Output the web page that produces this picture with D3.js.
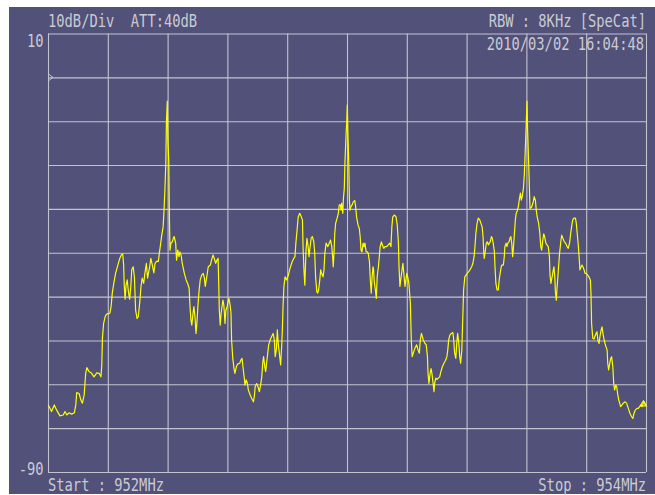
<!DOCTYPE html>
<html>
<head>
<meta charset="utf-8">
<script src="https://cdn.jsdelivr.net/npm/d3@7"></script>
<style>
  body { margin: 0; background: #fff; }
  svg { display: block; }
  text { white-space: pre; }
</style>
</head>
<body>
<div id="chart"></div>
<script>
// trace: frequency (MHz) and level (dBm)
var freqMHz = [
952.001,952.012,952.021,952.029,952.040,952.051,952.057,952.063,952.070,952.079,
952.088,952.093,952.096,952.104,952.110,952.115,952.121,952.126,952.130,952.137,
952.146,952.154,952.163,952.171,952.177,952.180,952.182,952.186,952.191,952.196,
952.207,952.211,952.215,952.220,952.226,952.233,952.240,952.246,952.250,952.253,
952.255,952.258,952.261,952.265,952.269,952.273,952.277,952.280,952.285,952.289,
952.293,952.298,952.302,952.307,952.311,952.315,952.320,952.324,952.329,952.333,
952.340,952.344,952.349,952.354,952.358,952.364,952.369,952.372,952.377,952.380,
952.385,952.388,952.391,952.394,952.396,952.399,952.401,952.404,952.406,952.408,
952.411,952.416,952.419,952.422,952.427,952.430,952.434,952.438,952.441,952.445,
952.449,952.456,952.462,952.467,952.472,952.475,952.478,952.481,952.485,952.488,
952.492,952.495,952.498,952.502,952.505,952.509,952.514,952.519,952.523,952.526,
952.531,952.536,952.543,952.547,952.552,952.556,952.561,952.565,952.569,952.571,
952.573,952.576,952.579,952.582,952.585,952.588,952.590,952.592,952.595,952.599,
952.602,952.605,952.609,952.612,952.614,952.618,952.622,952.625,952.630,952.634,
952.641,952.645,952.649,952.652,952.656,952.659,952.663,952.667,952.670,952.676,
952.681,952.687,952.690,952.693,952.698,952.702,952.707,952.711,952.715,952.718,
952.721,952.725,952.728,952.731,952.735,952.738,952.743,952.748,952.753,952.757,
952.760,952.764,952.767,952.770,952.775,952.778,952.782,952.784,952.786,952.789,
952.793,952.798,952.804,952.808,952.813,952.817,952.822,952.826,952.829,952.833,
952.837,952.842,952.846,952.851,952.853,952.856,952.859,952.861,952.863,952.866,
952.870,952.873,952.876,952.880,952.884,952.889,952.892,952.895,952.899,952.902,
952.905,952.909,952.912,952.915,952.920,952.923,952.926,952.930,952.933,952.936,
952.941,952.945,952.949,952.952,952.954,952.957,952.959,952.962,952.967,952.971,
952.974,952.978,952.980,952.982,952.986,952.988,952.991,952.993,952.997,952.999,
953.001,953.003,953.006,953.008,953.010,953.013,953.017,953.021,953.026,953.029,
953.032,953.037,953.041,953.044,953.047,953.050,953.054,953.057,953.060,953.064,
953.068,953.071,953.075,953.078,953.081,953.084,953.087,953.089,953.091,953.095,
953.098,953.101,953.105,953.108,953.111,953.115,953.118,953.123,953.127,953.133,
953.138,953.143,953.147,953.150,953.153,953.158,953.164,953.168,953.172,953.174,
953.177,953.181,953.184,953.187,953.191,953.194,953.200,953.203,953.207,953.212,
953.215,953.218,953.223,953.227,953.233,953.238,953.242,953.245,953.249,953.252,
953.255,953.261,953.265,953.269,953.271,953.274,953.278,953.281,953.284,953.288,
953.291,953.293,953.297,953.301,953.305,953.310,953.314,953.319,953.324,953.330,
953.334,953.337,953.340,953.344,953.349,953.354,953.357,953.360,953.364,953.367,
953.370,953.374,953.377,953.380,953.384,953.386,953.388,953.390,953.394,953.398,
953.402,953.407,953.411,953.417,953.421,953.425,953.428,953.431,953.435,953.439,
953.444,953.448,953.452,953.455,953.457,953.459,953.463,953.466,953.469,953.473,
953.476,953.479,953.483,953.486,953.489,953.493,953.495,953.498,953.502,953.506,
953.509,953.513,953.517,953.523,953.526,953.528,953.532,953.535,953.538,953.542,
953.545,953.548,953.551,953.554,953.556,953.560,953.563,953.566,953.570,953.573,
953.576,953.580,953.583,953.586,953.590,953.593,953.596,953.600,953.602,953.604,
953.609,953.612,953.618,953.623,953.626,953.630,953.633,953.636,953.641,953.645,
953.648,953.651,953.655,953.658,953.661,953.665,953.669,953.673,953.677,953.679,
953.682,953.686,953.689,953.692,953.695,953.697,953.700,953.702,953.705,953.708,
953.711,953.715,953.718,953.722,953.727,953.731,953.736,953.740,953.745,953.748,
953.752,953.755,953.759,953.764,953.767,953.770,953.774,953.777,953.779,953.783,
953.786,953.789,953.793,953.796,953.800,953.805,953.809,953.814,953.816,953.818,
953.822,953.826,953.829,953.833,953.836,953.839,953.843,953.846,953.850,953.853,
953.856,953.860,953.863,953.866,953.870,953.872,953.875,953.879,953.882,953.885,
953.889,953.892,953.895,953.899,953.902,953.905,953.909,953.912,953.915,953.920,
953.924,953.930,953.935,953.941,953.946,953.952,953.956,953.960,953.964,953.970,
953.974,953.979,953.982,953.987,953.991,953.994,953.998
];
var levelDb = [
-74.7,-76.2,-74.7,-75.9,-77.2,-77.0,-76.2,-77.0,-76.5,-76.8,
-76.5,-74.7,-71.9,-72.1,-73.6,-74.3,-72.4,-67.5,-66.2,-67.1,
-67.5,-68.3,-67.4,-67.5,-68.3,-65.6,-59.5,-56.1,-54.6,-54.0,
-53.8,-52.3,-49.2,-47.0,-44.7,-43.0,-41.3,-40.4,-40.3,-42.8,
-47.4,-50.6,-47.4,-46.2,-48.9,-50.6,-47.7,-43.9,-43.2,-45.5,
-53.1,-55.0,-54.6,-51.2,-47.7,-45.8,-47.0,-44.7,-42.4,-45.8,
-43.2,-41.3,-42.8,-44.6,-42.4,-41.9,-42.0,-40.3,-37.8,-36.2,
-34.1,-30.3,-25.7,-19.6,-10.5,-5.4,-14.3,-19.3,-31.6,-39.4,
-37.8,-37.5,-36.7,-36.3,-37.8,-41.7,-39.4,-40.9,-39.8,-40.5,
-42.4,-44.7,-46.2,-47.0,-48.1,-52.3,-55.3,-56.5,-53.8,-52.3,
-55.0,-58.4,-56.1,-51.5,-48.9,-46.2,-45.1,-44.7,-45.8,-47.7,
-45.5,-43.2,-42.8,-41.7,-40.5,-41.3,-42.4,-41.7,-41.3,-47.0,
-53.1,-56.5,-53.8,-52.3,-50.8,-51.9,-53.8,-56.1,-53.1,-52.3,
-51.2,-50.4,-51.9,-53.8,-59.9,-64.1,-66.4,-67.5,-66.0,-65.4,
-65.2,-64.5,-64.1,-66.0,-68.3,-70.2,-69.0,-69.8,-71.3,-72.4,
-73.2,-74.0,-72.8,-70.5,-69.8,-70.5,-71.7,-70.2,-68.3,-65.2,
-63.7,-66.0,-67.1,-65.2,-62.9,-61.0,-59.9,-59.1,-58.4,-59.9,
-63.7,-61.8,-57.6,-60.7,-63.7,-65.6,-60.7,-57.2,-52.3,-47.7,
-45.5,-46.2,-45.1,-43.9,-42.8,-42.0,-41.3,-40.9,-37.8,-34.8,
-31.8,-31.0,-31.6,-32.5,-38.6,-43.9,-47.4,-43.2,-39.4,-36.7,
-38.6,-40.9,-39.0,-36.7,-36.3,-37.5,-40.1,-45.5,-48.9,-49.2,
-48.5,-46.2,-43.9,-44.7,-45.5,-43.9,-40.1,-37.8,-38.2,-38.6,
-37.8,-37.1,-38.6,-40.9,-43.2,-39.4,-35.6,-33.3,-32.1,-31.0,
-29.1,-29.1,-30.3,-28.7,-31.0,-27.6,-25.3,-19.6,-12.8,-10.5,
-6.3,-12.8,-19.6,-28.0,-30.3,-29.5,-29.1,-28.4,-28.1,-29.5,
-31.8,-33.7,-34.4,-36.3,-39.4,-39.8,-37.8,-38.6,-37.8,-39.8,
-39.8,-40.1,-42.0,-46.2,-49.2,-45.5,-43.2,-43.9,-46.6,-48.5,
-50.4,-45.5,-43.2,-40.9,-38.6,-37.5,-38.2,-39.0,-38.6,-38.6,
-38.2,-37.8,-38.6,-34.1,-31.8,-31.4,-31.8,-33.7,-37.8,-43.2,
-47.7,-45.5,-43.9,-42.4,-45.5,-47.7,-44.7,-45.5,-47.0,-51.5,
-59.9,-63.7,-62.6,-61.8,-61.0,-62.2,-62.9,-59.9,-58.4,-59.1,
-59.9,-60.7,-61.0,-63.7,-67.5,-69.8,-67.5,-66.4,-67.5,-69.8,
-71.7,-69.8,-68.6,-68.9,-68.6,-68.3,-67.1,-66.0,-65.2,-64.5,
-63.7,-62.2,-59.9,-58.8,-58.4,-58.2,-59.9,-62.9,-64.1,-60.7,
-58.4,-60.7,-63.7,-65.2,-62.2,-57.6,-53.1,-48.5,-45.5,-45.1,
-44.7,-44.3,-43.9,-43.2,-42.4,-40.9,-38.6,-35.6,-33.3,-32.1,
-32.5,-33.3,-34.1,-36.3,-39.4,-41.3,-39.4,-37.8,-37.5,-38.2,
-37.8,-37.5,-36.3,-36.7,-37.8,-39.8,-43.2,-47.0,-48.5,-48.5,
-46.2,-44.3,-42.8,-42.8,-40.9,-38.6,-37.8,-38.6,-37.8,-37.5,
-36.7,-36.3,-37.8,-40.9,-39.4,-35.6,-32.5,-31.0,-30.3,-29.5,
-28.0,-26.4,-28.0,-27.2,-25.3,-22.3,-17.0,-9.7,-5.4,-12.0,
-22.7,-29.9,-29.5,-28.4,-27.2,-28.0,-30.3,-31.8,-33.3,-35.6,
-38.6,-39.4,-37.1,-35.7,-36.3,-37.8,-38.2,-38.6,-40.9,-45.1,
-47.0,-45.5,-44.3,-43.2,-45.5,-48.9,-50.8,-48.5,-45.8,-42.8,
-40.1,-37.5,-36.0,-36.7,-37.5,-37.8,-38.6,-39.0,-37.5,-35.6,
-33.7,-32.5,-32.1,-32.1,-33.3,-35.6,-38.6,-41.7,-43.9,-43.2,
-42.8,-43.2,-43.9,-44.7,-44.7,-45.1,-45.5,-46.2,-49.2,-56.1,
-59.5,-59.7,-59.1,-58.4,-58.0,-59.9,-60.7,-59.1,-57.6,-56.9,
-58.4,-59.9,-60.7,-61.4,-62.2,-65.2,-66.7,-65.2,-64.1,-63.7,
-66.0,-69.8,-71.3,-70.2,-70.5,-72.1,-73.6,-74.3,-75.1,-74.7,
-74.3,-74.0,-74.3,-75.5,-76.6,-77.4,-77.8,-76.6,-75.9,-75.5,
-75.5,-75.1,-74.7,-75.1,-74.3,-74.0,-74.7
];
var xTicks = [952.0,952.2,952.4,952.6,952.8,953.0,953.2,953.4,953.6,953.8,954.0];
var yTicks = [10,0,-10,-20,-30,-40,-50,-60,-70,-80,-90];
var yLabels = ["10","-90"];
var refLevel = 0;
var headerLeft = "10dB/Div  ATT:40dB";
var headerRight = "RBW : 8KHz [SpeCat]";
var stamp = "2010/03/02 16:04:48";
var startLabel = "Start : 952MHz";
var stopLabel = "Stop : 954MHz";

var W = 655, H = 495;
var plotL = 48, plotT = 33.5, plotR = 646, plotB = 472;
var bg = "#515179", gridCol = "#c4c4d0", textCol = "#cbcbd3", trace = "#ffff00";

var svg = d3.select("#chart").append("svg")
  .attr("width", W)
  .attr("height", H);

svg.append("rect")
  .attr("x", 9).attr("y", 7)
  .attr("width", W - 9).attr("height", 487)
  .attr("fill", bg);

var x = d3.scaleLinear().domain([952, 954]).range([plotL, plotR]);
var y = d3.scaleLinear().domain([-90, 10]).range([plotB, plotT]);

// grid via axes
var gx = svg.append("g")
  .attr("transform", "translate(0," + plotB + ")")
  .call(d3.axisBottom(x).tickValues(xTicks).tickSize(-(plotB - plotT)).tickFormat(""));
var gy = svg.append("g")
  .attr("transform", "translate(" + plotL + ",0)")
  .call(d3.axisLeft(y).tickValues(yTicks).tickSize(-(plotR - plotL)).tickFormat(""));
[gx, gy].forEach(function(g){
  g.select(".domain").remove();
  g.selectAll(".tick line").attr("stroke", gridCol).attr("stroke-width", 1.1);
});

// reference level marker
svg.append("path")
  .attr("d", "M" + (plotL + 1) + "," + (y(refLevel) - 3) + "L" + (plotL + 5) + "," + y(refLevel) + "L" + (plotL + 1) + "," + (y(refLevel) + 3))
  .attr("fill", "none")
  .attr("stroke", gridCol)
  .attr("stroke-width", 1);

var pts = d3.zip(freqMHz, levelDb);
var line = d3.line()
  .x(function(d){ return x(d[0]); })
  .y(function(d){ return y(d[1]); });

svg.append("path")
  .datum(pts)
  .attr("d", line)
  .attr("fill", "none")
  .attr("stroke", trace)
  .attr("stroke-width", 1.2)
  .attr("stroke-linejoin", "round");

// end marker
var last = pts[pts.length - 1];
var mx = x(last[0]) - 2, my = y(last[1]);
svg.append("path")
  .attr("d", "M" + (mx - 3) + "," + (my + 1) + "L" + mx + "," + (my - 4) + "L" + (mx + 3) + "," + (my + 1) + "Z")
  .attr("fill", "none")
  .attr("stroke", trace)
  .attr("stroke-width", 1.2);

// narrow tall monospace look of the instrument font
var sx = 0.81;
function label(txt, px, py, anchor) {
  svg.append("text")
    .text(txt)
    .attr("transform", "translate(" + px + "," + py + ") scale(" + sx + ",1)")
    .attr("text-anchor", anchor)
    .attr("fill", textCol)
    .attr("font-size", 17)
    .attr("font-family", "DejaVu Sans Mono, monospace");
}

label(headerLeft, plotL, 26.5, "start");
label(headerRight, 646, 26.5, "end");
label(stamp, 644, 50, "end");
label(yLabels[0], 43.5, y(10) + 13, "end");
label(yLabels[1], 43.5, y(-90) + 3, "end");
label(startLabel, plotL, 490.5, "start");
label(stopLabel, 646, 490.5, "end");
</script>
</body>
</html>
